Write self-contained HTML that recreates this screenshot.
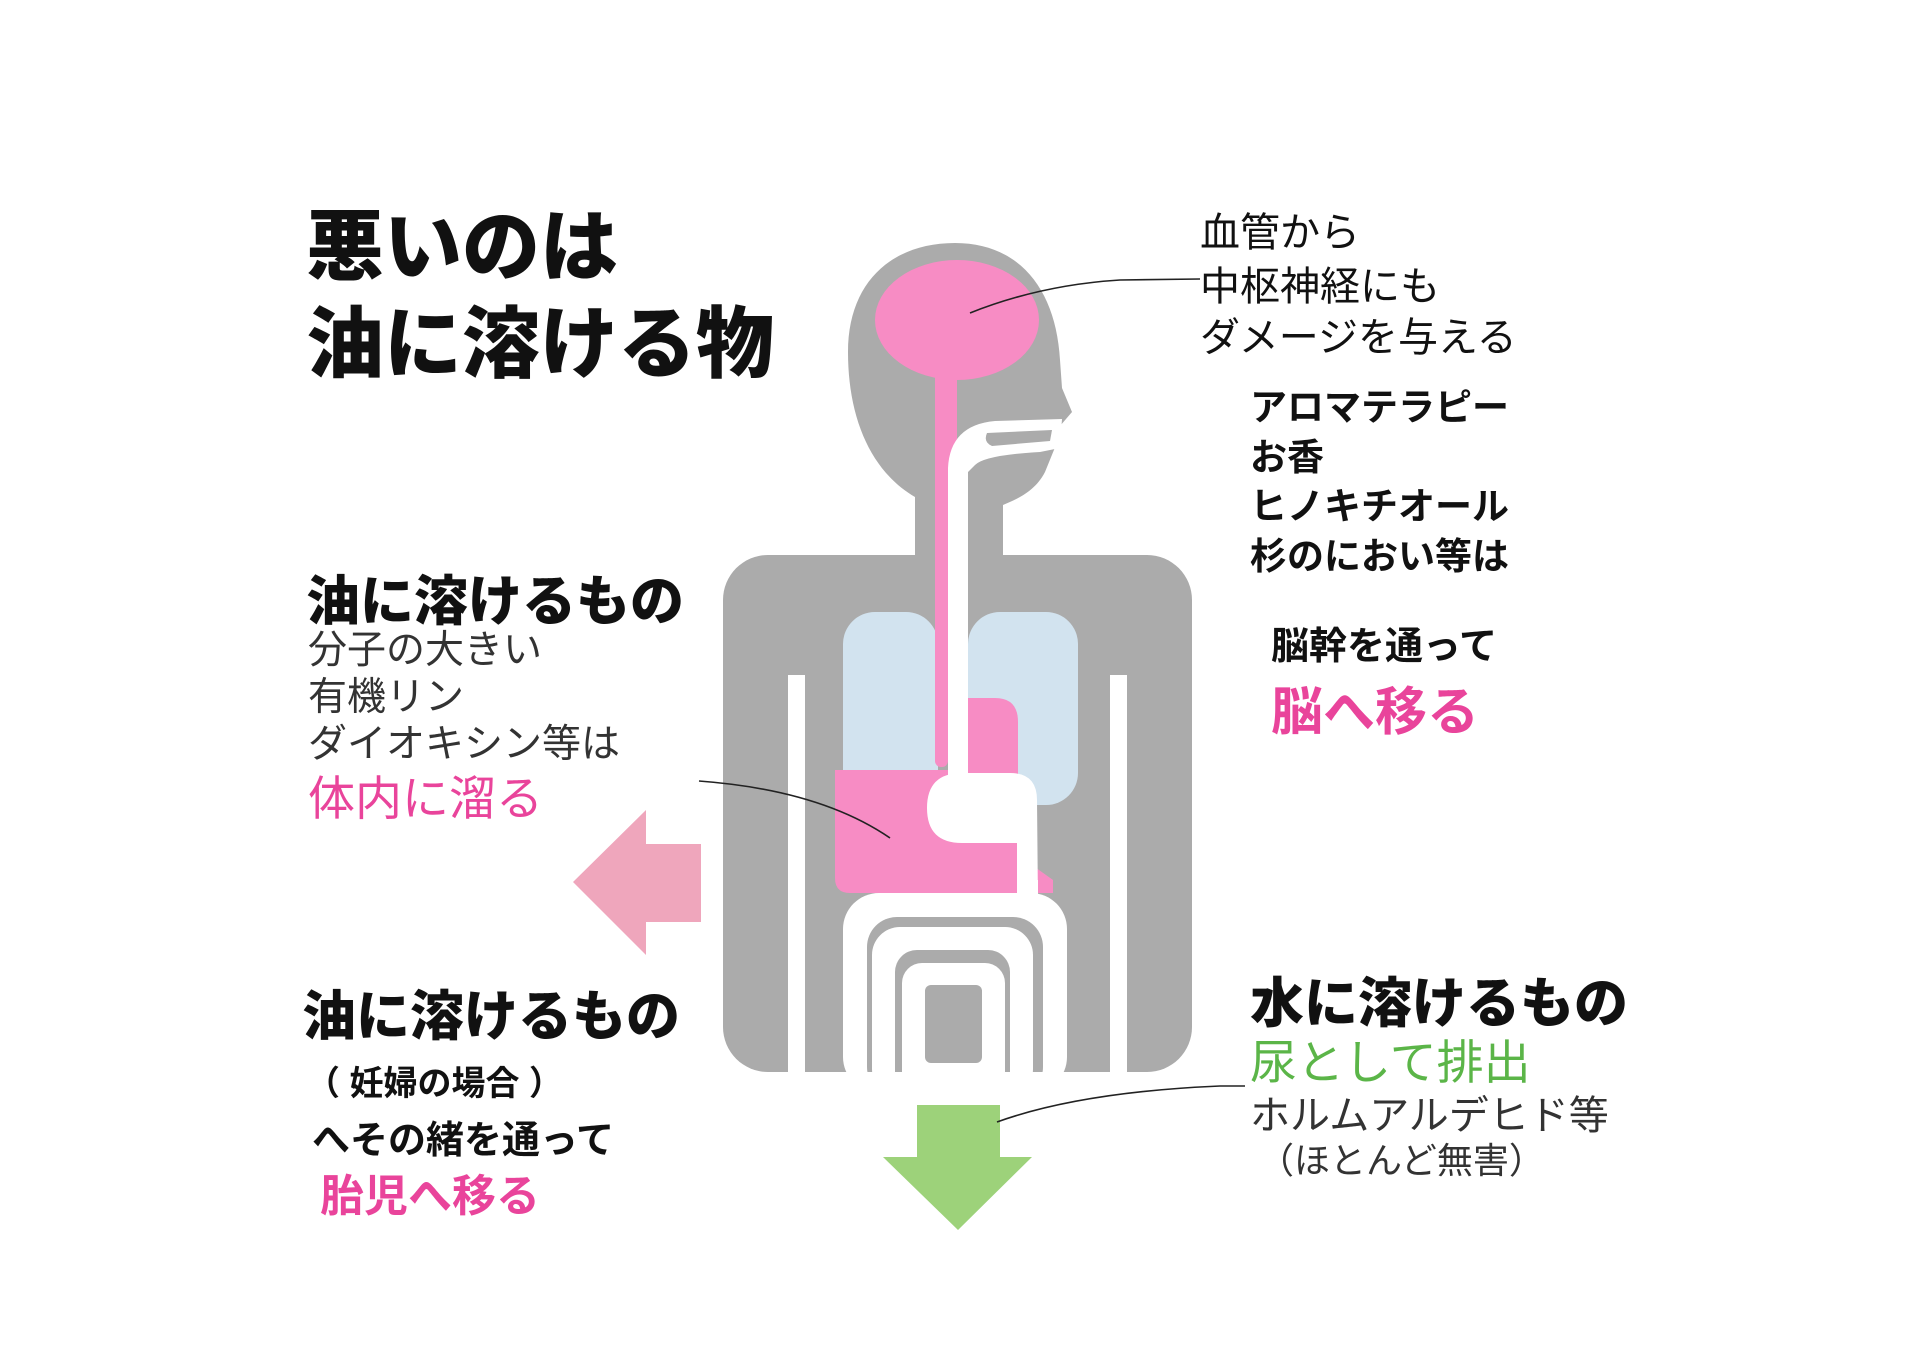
<!DOCTYPE html>
<html><head><meta charset="utf-8"><style>
body{margin:0;width:1920px;height:1357px;background:#fff;position:relative;overflow:hidden;font-family:"Liberation Sans","Noto Sans CJK JP",sans-serif}
.t{position:absolute;white-space:nowrap;color:#111}
.h{font-weight:900;color:#111}
</style></head><body>
<svg width="1920" height="1357" style="position:absolute;left:0;top:0">
<path d="M915,560 L915,497 C872,472 848,420 848,352 C848,282 892,243 955,243 C1020,243 1056,290 1060,360 L1062,388 L1072,412 L1060,426 L1058,440 L1045,472 C1035,492 1015,500 1003,505 L1003,560 Z" fill="#ababab"/>
<rect x="723" y="555" width="469" height="517" rx="45" fill="#ababab"/>
<rect x="788" y="675" width="17" height="400" fill="#fff"/>
<rect x="1110" y="675" width="17" height="400" fill="#fff"/>
<ellipse cx="957" cy="320" rx="82" ry="60" fill="#f78cc4"/>
<rect x="843" y="612" width="95" height="193" rx="32" fill="#d2e3ef"/>
<rect x="968" y="612" width="110" height="193" rx="32" fill="#d2e3ef"/>
<path d="M835,770 L1018,770 L1018,855 L1053,880 L1053,893 L850,893 Q835,893 835,878 Z" fill="#f78cc4"/>
<path d="M968,698 L995,698 Q1018,698 1018,722 L1018,772 L968,772 Z" fill="#f78cc4"/>
<rect x="935" y="370" width="22" height="120" fill="#f78cc4"/>
<rect x="935" y="470" width="13" height="297" rx="6" fill="#f78cc4"/>
<path d="M948,800 L948,468 Q950,425 995,421 L1062,419 L1060,448 L1040,452 Q985,455 975,465 L968,472 L968,800 Z" fill="#fff"/>
<path d="M987,433 L1052,430 L1050,441 L992,446 Q983,442 987,433 Z" fill="#ababab"/>
<path d="M962,773 L1010,773 Q1037,773 1037,800 L1038,905 L1017,905 L1017,843 L962,843 Q927,843 927,808 Q927,773 962,773 Z" fill="#fff"/>
<rect x="843" y="893" width="224" height="200" rx="36" fill="#fff"/>
<rect x="867" y="917" width="176" height="180" rx="30" fill="#ababab"/>
<rect x="872" y="927" width="161" height="170" rx="28" fill="#fff"/>
<rect x="895" y="950" width="115" height="150" rx="22" fill="#ababab"/>
<rect x="902" y="963" width="103" height="140" rx="20" fill="#fff"/>
<rect x="925" y="985" width="57" height="78" rx="6" fill="#ababab"/>
<rect x="840" y="1072" width="230" height="40" fill="#fff"/>
<rect x="1017" y="880" width="21" height="30" fill="#fff"/>
<polygon points="701,844 646,844 646,810 573,882 646,955 646,922 701,922" fill="#efa6bc"/>
<polygon points="917,1105 1000,1105 1000,1157 1032,1157 958,1230 883,1157 917,1157" fill="#9dd27a"/>
<g fill="none" stroke="#222" stroke-width="1.6">
<path d="M970,313 Q1040,285 1120,280 L1200,279"/>
<path d="M699,781 Q820,790 890,838"/>
<path d="M997,1122 Q1080,1092 1220,1086 L1245,1086"/>
</g>
</svg>

<div class="t h" style="left:306px;top:200px;font-size:78px;line-height:94px">悪いのは</div>
<div class="t h" style="left:306px;top:297px;font-size:78px;line-height:94px">油に溶ける物</div>

<div class="t" style="left:1200px;top:207px;font-size:40px;line-height:52px">血管から</div>
<div class="t" style="left:1200px;top:261px;font-size:40px;line-height:52px">中枢神経にも</div>
<div class="t" style="left:1200px;top:312px;font-size:40px;line-height:52px">ダメージを与える</div>

<div class="t" style="left:1250px;top:383px;font-size:37px;line-height:50px;font-weight:bold">アロマテラピー</div>
<div class="t" style="left:1250px;top:433px;font-size:37px;line-height:50px;font-weight:bold">お香</div>
<div class="t" style="left:1250px;top:482px;font-size:37px;line-height:50px;font-weight:bold">ヒノキチオール</div>
<div class="t" style="left:1250px;top:532px;font-size:37px;line-height:50px;font-weight:bold">杉のにおい等は</div>
<div class="t" style="left:1271px;top:622px;font-size:38px;line-height:50px;font-weight:bold">脳幹を通って</div>
<div class="t" style="left:1271px;top:682px;font-size:52px;line-height:62px;font-weight:bold;color:#e9449b">脳へ移る</div>

<div class="t h" style="left:306px;top:570px;font-size:54px;line-height:64px">油に溶けるもの</div>
<div class="t" style="left:308px;top:626px;font-size:39px;line-height:50px;color:#333">分子の大きい</div>
<div class="t" style="left:308px;top:673px;font-size:39px;line-height:50px;color:#333">有機リン</div>
<div class="t" style="left:308px;top:720px;font-size:39px;line-height:50px;color:#333">ダイオキシン等は</div>
<div class="t" style="left:308px;top:770px;font-size:47px;line-height:58px;color:#e9449b">体内に溜る</div>

<div class="t h" style="left:302px;top:985px;font-size:54px;line-height:64px">油に溶けるもの</div>
<div class="t" style="left:306px;top:1062px;font-size:34px;line-height:44px;font-weight:bold">（ 妊婦の場合 ）</div>
<div class="t" style="left:312px;top:1117px;font-size:38px;line-height:48px;font-weight:bold">へその緒を通って</div>
<div class="t" style="left:320px;top:1170px;font-size:44px;line-height:54px;font-weight:bold;color:#e9449b">胎児へ移る</div>

<div class="t h" style="left:1250px;top:972px;font-size:54px;line-height:64px">水に溶けるもの</div>
<div class="t" style="left:1250px;top:1034px;font-size:47px;line-height:58px;color:#5bb548">尿として排出</div>
<div class="t" style="left:1250px;top:1091px;font-size:40px;line-height:50px;color:#333">ホルムアルデヒド等</div>
<div class="t" style="left:1258px;top:1138px;font-size:36px;line-height:46px;color:#333">（ほとんど無害）</div>
</body></html>
